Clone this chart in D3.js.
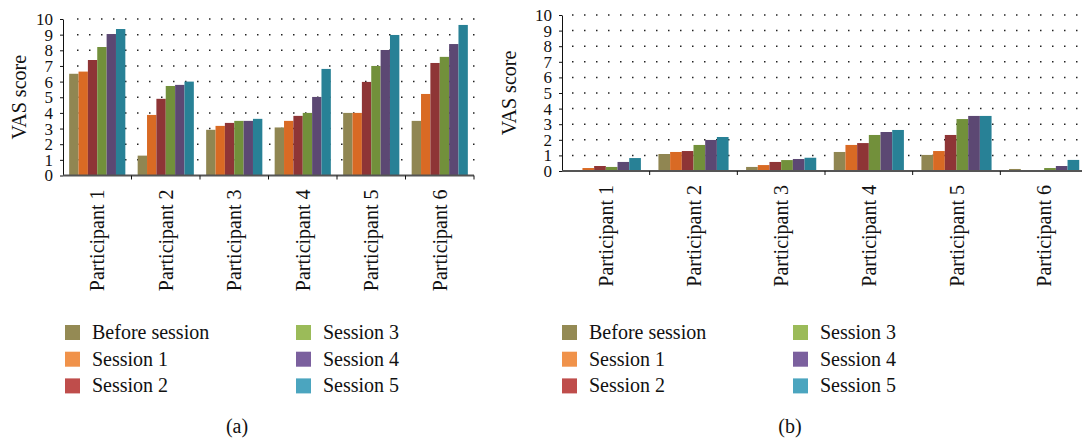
<!DOCTYPE html>
<html>
<head>
<meta charset="utf-8">
<script src="https://cdn.jsdelivr.net/npm/d3@7"></script>
<style>
  body { margin: 0; background: #fff; }
  svg { display: block; font-family: "Liberation Serif", "DejaVu Serif", serif; }
</style>
</head>
<body>
<svg width="1082" height="442"></svg>
<script>
var participants = ["Participant 1", "Participant 2", "Participant 3", "Participant 4", "Participant 5", "Participant 6"];
var sessions = ["Before session", "Session 1", "Session 2", "Session 3", "Session 4", "Session 5"];
var yTicks = [0, 1, 2, 3, 4, 5, 6, 7, 8, 9, 10];

// chart (a): one array per session, one value per participant
var beforeA = [6.5, 1.27, 2.92, 3.07, 4.0, 3.49];
var session1A = [6.64, 3.87, 3.17, 3.49, 4.0, 5.21];
var session2A = [7.38, 4.9, 3.36, 3.81, 5.98, 7.19];
var session3A = [8.21, 5.72, 3.49, 4.0, 7.0, 7.58];
var session4A = [9.04, 5.79, 3.49, 5.02, 8.02, 8.4];
var session5A = [9.36, 6.0, 3.62, 6.81, 8.98, 9.62];

// chart (b)
var beforeB = [0.05, 1.09, 0.26, 1.22, 1.03, 0.13];
var session1B = [0.19, 1.22, 0.38, 1.67, 1.28, 0.05];
var session2B = [0.32, 1.28, 0.58, 1.79, 2.31, 0.05];
var session3B = [0.26, 1.67, 0.7, 2.31, 3.33, 0.19];
var session4B = [0.58, 1.99, 0.77, 2.5, 3.53, 0.32];
var session5B = [0.83, 2.18, 0.85, 2.63, 3.53, 0.71];

var barColors = ["#908652", "#d96a24", "#8e3536", "#72903b", "#5c4873", "#288196"];
var legendColors = ["#948a54", "#f0924a", "#bf4d4b", "#9bbb59", "#7b609e", "#4ba5bf"];

var svg = d3.select("svg");

function drawChart(opt) {
    var series = opt.series;
    var g = svg.append("g");

    var x0 = d3.scaleBand()
        .domain(participants)
        .range([opt.left, opt.right]);

    var pad = x0.bandwidth() * opt.groupPad;
    var x1 = d3.scaleBand()
        .domain(sessions)
        .range([pad, x0.bandwidth() - pad]);

    var y = d3.scaleLinear()
        .domain([0, 10])
        .range([opt.bottom, opt.top]);

    // dotted grid
    g.selectAll(".grid")
        .data(yTicks.filter(function (d) { return d > 0; }))
        .enter().append("line")
        .attr("x1", opt.left + opt.dotStart)
        .attr("x2", opt.gridEnd)
        .attr("y1", function (d) { return y(d); })
        .attr("y2", function (d) { return y(d); })
        .attr("stroke", "#222")
        .attr("stroke-width", 1.5)
        .attr("stroke-dasharray", "1.5,10.5");

    // bars
    var rows = participants.map(function (p, i) {
        return sessions.map(function (s, j) {
            return { p: p, s: s, i: j, v: series[j][i] };
        });
    });

    g.selectAll(".grp")
        .data(rows)
        .enter().append("g")
        .attr("transform", function (d) { return "translate(" + x0(d[0].p) + ",0)"; })
        .selectAll("rect")
        .data(function (d) { return d; })
        .enter().append("rect")
        .attr("x", function (d) { return x1(d.s); })
        .attr("width", x1.bandwidth())
        .attr("y", function (d) { return y(d.v); })
        .attr("height", function (d) { return opt.bottom - y(d.v); })
        .attr("fill", function (d) { return barColors[d.i]; });

    // y axis
    var yAxis = g.append("g")
        .attr("transform", "translate(" + opt.left + ",0)")
        .call(d3.axisLeft(y).tickValues(yTicks).tickSize(3).tickPadding(7).tickSizeOuter(0));
    yAxis.selectAll("text")
        .attr("font-family", "Liberation Serif, serif")
        .attr("font-size", 17)
        .attr("fill", "#111");
    yAxis.select(".domain").attr("stroke", "#111");
    yAxis.selectAll(".tick line").attr("stroke", "#111");

    // x axis
    var xAxis = g.append("g")
        .attr("transform", "translate(0," + opt.bottom + ")")
        .call(d3.axisBottom(x0).tickSize(0).tickFormat(""));
    xAxis.select(".domain")
        .attr("d", "M" + opt.left + ",0H" + opt.axisEnd)
        .attr("stroke", "#555")
        .attr("stroke-width", 2);

    g.selectAll(".xtick")
        .data(participants.slice(1).concat(["end"]))
        .enter().append("line")
        .attr("x1", function (d, i) { return opt.left + (i + 1) * x0.step(); })
        .attr("x2", function (d, i) { return opt.left + (i + 1) * x0.step(); })
        .attr("y1", opt.bottom)
        .attr("y2", opt.bottom + 4)
        .attr("stroke", "#111");

    // category labels
    g.selectAll(".xlabel")
        .data(participants)
        .enter().append("text")
        .attr("transform", function (d) {
            return "translate(" + (x0(d) + x0.bandwidth() / 2) + "," + (opt.bottom + 14) + ") rotate(-90)";
        })
        .attr("text-anchor", "end")
        .attr("dy", "0.35em")
        .attr("font-size", 20)
        .attr("fill", "#111")
        .text(function (d) { return d; });

    // y title
    g.append("text")
        .attr("transform", "translate(" + opt.titleX + "," + ((opt.top + opt.bottom) / 2) + ") rotate(-90)")
        .attr("text-anchor", "middle")
        .attr("dy", "0.35em")
        .attr("font-size", 20)
        .attr("fill", "#111")
        .text("VAS score");

    // legend
    var leg = g.selectAll(".leg")
        .data(sessions)
        .enter().append("g")
        .attr("transform", function (d, i) {
            var col = Math.floor(i / 3), row = i % 3;
            return "translate(" + (opt.legendX + col * opt.legendColW) + "," + (325 + row * 26.7) + ")";
        });
    leg.append("rect")
        .attr("width", 15)
        .attr("height", 15)
        .attr("fill", function (d, i) { return legendColors[i]; });
    leg.append("text")
        .attr("x", 27)
        .attr("y", 14)
        .attr("font-size", 20)
        .attr("fill", "#111")
        .text(function (d) { return d; });

    // caption
    g.append("text")
        .attr("x", opt.captionX)
        .attr("y", 433)
        .attr("text-anchor", "middle")
        .attr("font-size", 20)
        .attr("fill", "#111")
        .text(opt.caption);
}

drawChart({
    series: [beforeA, session1A, session2A, session3A, session4A, session5A],
    left: 63, right: 474, top: 19, bottom: 175.5,
    groupPad: 0.09, dotStart: 14, gridEnd: 476, axisEnd: 474,
    titleX: 19, legendX: 65, legendColW: 231,
    captionX: 237, caption: "(a)"
});

drawChart({
    series: [beforeB, session1B, session2B, session3B, session4B, session5B],
    left: 562, right: 1088, top: 15, bottom: 171,
    groupPad: 0.1, dotStart: 10, gridEnd: 1082, axisEnd: 1082,
    titleX: 509, legendX: 562, legendColW: 231,
    captionX: 790, caption: "(b)"
});
</script>
</body>
</html>
